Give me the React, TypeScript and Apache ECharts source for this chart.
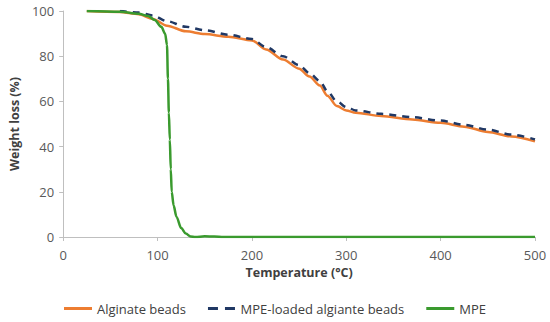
import React, { useEffect, useRef } from "react";
import * as echarts from "echarts";

const algTemp = [25, 60, 80, 95, 110, 130, 150, 175, 200, 215, 233, 250, 261, 272, 280, 290, 300, 310, 337, 370, 400, 425, 450, 475, 500];
const algWeight = [100, 99.6, 98.6, 96.5, 93.5, 91, 89.8, 88.6, 87, 83, 78.5, 74.5, 71, 67, 62.5, 58, 56, 55, 53.5, 52, 50.5, 48.8, 46.5, 44.5, 42.3];

const mpeBeadsTemp = [60, 80, 95, 110, 130, 150, 175, 200, 215, 233, 250, 261, 272, 280, 290, 300, 310, 337, 370, 400, 425, 450, 475, 500];
const mpeBeadsWeight = [100, 99.3, 98, 95.5, 93, 91.5, 89.5, 87.6, 84, 80, 76, 72.5, 69, 64.5, 60, 57.5, 56, 54.5, 53, 51.5, 49.6, 47.5, 45.3, 43.2];

const mpeTemp = [25, 60, 80, 90, 97, 104, 108, 110, 111, 112, 113, 114, 115, 117, 120, 125, 130, 135, 140, 150, 160, 170, 300, 500];
const mpeWeight = [100, 99.7, 98.8, 97.8, 96, 93, 90, 85, 70, 55, 43, 30, 20, 14, 9, 4, 1.5, 0.2, 0, 0.3, 0.2, 0, 0, 0];

const xTicks = [0, 100, 200, 300, 400, 500];
const yTicks = [0, 20, 40, 60, 80, 100];

const pairs = (xs: number[], ys: number[]) => xs.map((x, i) => [x, ys[i]]);

const FONT = "'Open Sans', 'Noto Sans', sans-serif";
const SOLID_ICON = "path://M0,0H28V3H0Z";
const DASH_ICON = "path://M0,0H10V3H0Z M17,0H27V3H17Z";

export default function App() {
  const ref = useRef<HTMLDivElement>(null);
  useEffect(() => {
    if (!ref.current) return;
    const chart = echarts.init(ref.current, undefined, { renderer: "svg" });
    chart.setOption({
      animation: false,
      backgroundColor: "#ffffff",
      textStyle: { fontFamily: FONT },
      grid: { left: 58, right: 15, top: 11, bottom: 85 },
      legend: {
        bottom: 2,
        left: "center",
        itemWidth: 28,
        itemHeight: 3,
        itemGap: 22,
        textStyle: { color: "#404040", fontSize: 13, fontFamily: FONT },
        data: [
          { name: "Alginate beads", icon: SOLID_ICON },
          { name: "MPE-loaded algiante beads", icon: DASH_ICON },
          { name: "MPE", icon: SOLID_ICON },
        ],
      },
      xAxis: {
        type: "value",
        min: xTicks[0],
        max: xTicks[xTicks.length - 1],
        interval: 100,
        name: "Temperature (°C)",
        nameLocation: "middle",
        nameGap: 28,
        nameTextStyle: { color: "#404040", fontWeight: "bold", fontSize: 12.5, fontFamily: FONT },
        axisLine: { show: true, lineStyle: { color: "#bfbfbf", width: 1 } },
        axisTick: { show: true, length: 4, lineStyle: { color: "#bfbfbf" } },
        axisLabel: { color: "#595959", fontSize: 13, margin: 11, fontFamily: FONT },
        splitLine: { show: false },
      },
      yAxis: {
        type: "value",
        min: yTicks[0],
        max: yTicks[yTicks.length - 1],
        interval: 20,
        name: "Weight loss (%)",
        nameLocation: "middle",
        nameGap: 40,
        nameTextStyle: { color: "#404040", fontWeight: "bold", fontSize: 12.5, fontFamily: FONT },
        axisLine: { show: true, lineStyle: { color: "#bfbfbf", width: 1 } },
        axisTick: { show: true, length: 4, lineStyle: { color: "#bfbfbf" } },
        axisLabel: { color: "#595959", fontSize: 13, margin: 9, fontFamily: FONT },
        splitLine: { show: false },
      },
      series: [
        {
          name: "Alginate beads",
          type: "line",
          data: pairs(algTemp, algWeight),
          symbol: "none",
          smooth: 0.3,
          smoothMonotone: "x",
          lineStyle: { color: "#ED7D31", width: 2.5 },
          itemStyle: { color: "#ED7D31" },
          z: 2,
        },
        {
          name: "MPE-loaded algiante beads",
          type: "line",
          data: pairs(mpeBeadsTemp, mpeBeadsWeight),
          symbol: "none",
          smooth: 0.3,
          smoothMonotone: "x",
          lineStyle: { color: "#203864", width: 2.5, type: [7, 6] },
          itemStyle: { color: "#203864" },
          z: 3,
        },
        {
          name: "MPE",
          type: "line",
          data: pairs(mpeTemp, mpeWeight),
          symbol: "none",
          smooth: 0.3,
          smoothMonotone: "x",
          lineStyle: { color: "#3A9A2E", width: 2.5 },
          itemStyle: { color: "#3A9A2E" },
          z: 4,
        },
      ],
    });
    return () => chart.dispose();
  }, []);
  return <div ref={ref} style={{ width: 550, height: 322, position: "absolute", left: 0, top: 0 }} />;
}
